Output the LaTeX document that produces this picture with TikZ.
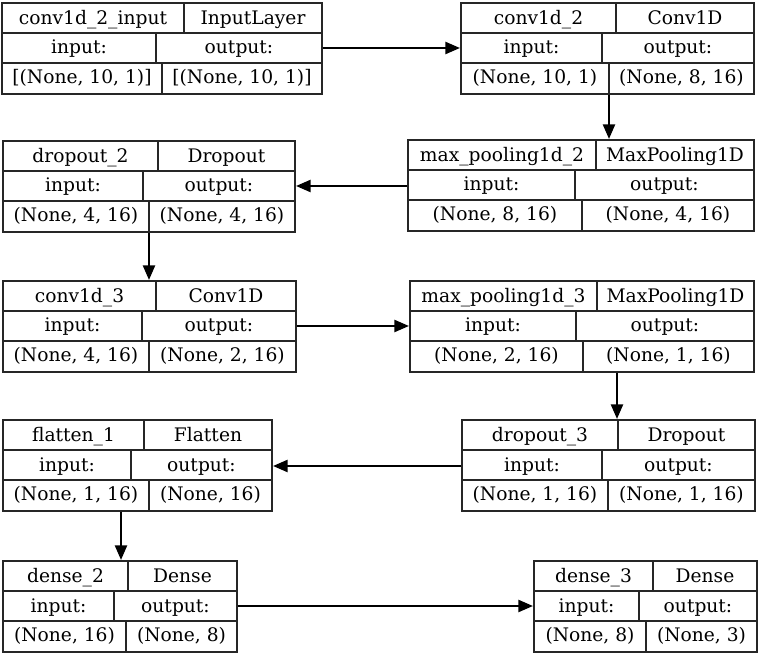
\documentclass[tikz,border=0pt]{standalone}
\usepackage{fontspec}
\setmainfont{DejaVu Serif}
\usetikzlibrary{arrows.meta}
\tikzset{
  box/.style={draw=black!85, line width=0.9pt, inner sep=0pt, fill=white},
  cellline/.style={draw=black!85, line width=0.9pt},
  txt/.style={font=\fontsize{14}{16}\selectfont, inner sep=0pt, anchor=base},
  conn/.style={draw=black, line width=1.8pt, -{Triangle[length=11pt,width=9pt]}, shorten >=0.3pt}
}
% #1 name, #2 left, #3 top, #4 right, #5 top divider, #6 middle divider, #7 bottom divider, #8 label, #9 class
\newcommand\layerbox[9]{%
  \node[box, minimum width={(#4-#2)*0.75pt}, minimum height={91*0.75pt}] (#1) at ({(#2+#4)/2},{#3+45.5}) {};
  \draw[cellline] (#2,#3+30) -- (#4,#3+30) (#2,#3+60) -- (#4,#3+60);
  \draw[cellline] (#5,#3) -- (#5,#3+30) (#6,#3+30) -- (#6,#3+60) (#7,#3+60) -- (#7,#3+91);
  \node[txt] (#1-n) at ({(#2+#5)/2},#3+21.5) {#8};
  \node[txt] (#1-c) at ({(#5+#4)/2},#3+21.5) {#9};
  \node[txt] (#1-i) at ({(#2+#6)/2},#3+51) {input:};
  \node[txt] (#1-o) at ({(#6+#4)/2},#3+51) {output:};
  \coordinate (#1-s1) at ({(#2+#7)/2},#3+80.5);
  \coordinate (#1-s2) at ({(#7+#4)/2},#3+80.5);
}
\newcommand\layershapes[3]{%
  \node[txt] (#1-si) at (#1-s1) {#2};
  \node[txt] (#1-so) at (#1-s2) {#3};
}
\begin{document}
\begin{tikzpicture}[x=0.75pt,y=-0.75pt]
\useasboundingbox (0,0) rectangle (758,656);
\fill[white] (0,0) rectangle (758,656);

\layerbox{l1}{2}{3}{322}{184}{156}{162}{conv1d\_2\_input}{InputLayer}
\layershapes{l1}{[(None, 10, 1)]}{[(None, 10, 1)]}

\layerbox{l2}{461}{3}{754}{616}{602}{609}{conv1d\_2}{Conv1D}
\layershapes{l2}{(None, 10, 1)}{(None, 8, 16)}

\layerbox{l3}{408}{140}{754}{596}{575}{582}{max\_pooling1d\_2}{MaxPooling1D}
\layershapes{l3}{(None, 8, 16)}{(None, 4, 16)}

\layerbox{l4}{3}{141}{295}{158}{143}{149}{dropout\_2}{Dropout}
\layershapes{l4}{(None, 4, 16)}{(None, 4, 16)}

\layerbox{l5}{3}{281}{296}{156}{142}{149}{conv1d\_3}{Conv1D}
\layershapes{l5}{(None, 4, 16)}{(None, 2, 16)}

\layerbox{l6}{410}{281}{754}{597}{576}{583}{max\_pooling1d\_3}{MaxPooling1D}
\layershapes{l6}{(None, 2, 16)}{(None, 1, 16)}

\layerbox{l7}{462}{420}{755}{618}{602}{608}{dropout\_3}{Dropout}
\layershapes{l7}{(None, 1, 16)}{(None, 1, 16)}

\layerbox{l8}{3}{420}{272}{144}{131}{149}{flatten\_1}{Flatten}
\layershapes{l8}{(None, 1, 16)}{(None, 16)}

\layerbox{l9}{3}{561}{237}{128}{114}{126}{dense\_2}{Dense}
\layershapes{l9}{(None, 16)}{(None, 8)}

\layerbox{l10}{534}{561}{757}{653}{639}{646}{dense\_3}{Dense}
\layershapes{l10}{(None, 8)}{(None, 3)}

% connectors
\draw[conn] (l1.east |- 0,48) -- (l2.west |- 0,48);
\draw[conn] (l2.south -| 609,0) -- (l3.north -| 609,0);
\draw[conn] (l3.west |- 0,186) -- (l4.east |- 0,186);
\draw[conn] (l4.south -| 149,0) -- (l5.north -| 149,0);
\draw[conn] (l5.east |- 0,326) -- (l6.west |- 0,326);
\draw[conn] (l6.south -| 617,0) -- (l7.north -| 617,0);
\draw[conn] (l7.west |- 0,466) -- (l8.east |- 0,466);
\draw[conn] (l8.south -| 121,0) -- (l9.north -| 121,0);
\draw[conn] (l9.east |- 0,606) -- (l10.west |- 0,606);
\end{tikzpicture}
\end{document}
